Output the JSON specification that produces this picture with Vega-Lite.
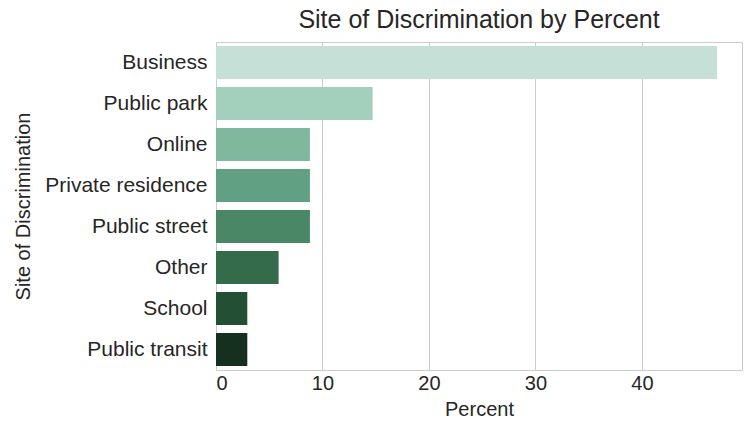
{
  "$schema": "https://vega.github.io/schema/vega-lite/v6.json",
  "autosize": "none",
  "width": 526,
  "height": 328,
  "padding": {"left": 216, "top": 42, "right": 5, "bottom": 56},
  "background": "white",
  "title": {"text": "Site of Discrimination by Percent", "font": "Liberation Sans", "fontSize": 25, "fontWeight": "normal", "color": "#262626", "anchor": "middle", "offset": 9},
  "data": {"values": [
    {"site": "Business", "percent": 47.06},
    {"site": "Public park", "percent": 14.71},
    {"site": "Online", "percent": 8.82},
    {"site": "Private residence", "percent": 8.82},
    {"site": "Public street", "percent": 8.82},
    {"site": "Other", "percent": 5.88},
    {"site": "School", "percent": 2.94},
    {"site": "Public transit", "percent": 2.94}
  ]},
  "mark": {"type": "bar"},
  "encoding": {
    "y": {"field": "site", "type": "nominal", "sort": null, "title": "Site of Discrimination",
      "scale": {"paddingInner": 0.2, "paddingOuter": 0.1},
      "axis": {"domain": false, "ticks": false, "grid": false, "labelFontSize": 21, "labelColor": "#262626", "labelFont": "Liberation Sans", "labelPadding": 9, "titleFont": "Liberation Sans", "titleFontSize": 20, "titleFontWeight": "normal", "titleColor": "#262626", "titlePadding": 11}},
    "x": {"field": "percent", "type": "quantitative", "title": "Percent",
      "scale": {"domain": [0, 49.4], "nice": false, "zero": true},
      "axis": {"values": [0, 10, 20, 30, 40], "domain": false, "ticks": false, "grid": true, "gridColor": "#cccccc", "labelFontSize": 20, "labelColor": "#262626", "labelFont": "Liberation Sans", "labelPadding": 3, "titleFont": "Liberation Sans", "titleFontSize": 20, "titleFontWeight": "normal", "titleColor": "#262626", "titlePadding": 6}},
    "color": {"field": "site", "type": "nominal", "sort": null, "legend": null,
      "scale": {"domain": ["Business", "Public park", "Online", "Private residence", "Public street", "Other", "School", "Public transit"],
        "range": ["#c5e0d6", "#a2d0bc", "#7fb89d", "#62a083", "#4a8767", "#346b4a", "#234f35", "#15301f"]}}
  },
  "config": {"view": {"stroke": "#cccccc", "strokeWidth": 1}}
}
